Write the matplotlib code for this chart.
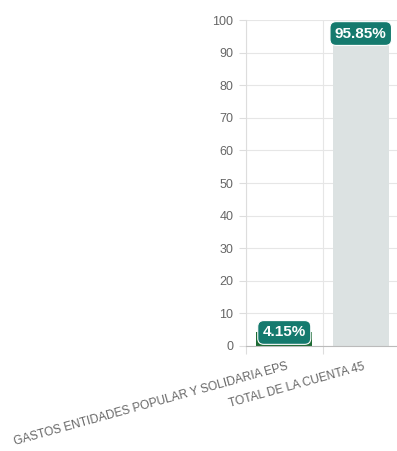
import matplotlib.pyplot as plt

categories = ['GASTOS ENTIDADES POPULAR Y SOLIDARIA EPS', 'TOTAL DE LA CUENTA 45']
values = [4.15, 95.85]
bar_colors = ['#1d6b34', '#dce2e2']
yticks = list(range(0, 101, 10))

plt.rcParams['font.family'] = ['Liberation Sans', 'DejaVu Sans']

fig = plt.figure(figsize=(3.97, 4.51), dpi=100)
ax = fig.add_axes([246 / 397, 1 - 346 / 451, 153 / 397, 326 / 451])

x = list(range(len(categories)))
ax.bar(x, values, width=0.73, color=bar_colors, zorder=2)

ax.set_xlim(-0.5, 1.5)
ax.set_ylim(0, 100)
ax.set_yticks(yticks)
ax.set_yticklabels([str(t) for t in yticks], color='#666666', fontsize=9)

# category boundaries carry the vertical grid and tick marks
ax.set_xticks([-0.5, 0.5])
ax.set_xticklabels(['', ''])
ax.tick_params(axis='x', length=6, color='#dddddd')
ax.tick_params(axis='y', length=5, color='#dddddd', pad=4)
ax.grid(True, color='#e6e6e6', linewidth=0.8, zorder=0)

for s in ['top', 'right']:
    ax.spines[s].set_visible(False)
ax.spines['left'].set_color('#dddddd')
ax.spines['bottom'].set_color('#bbbbbb')

# rotated category labels, anchored at their right end
for xi, name in zip(x, categories):
    ax.text(xi + 0.03, -4.5, name, rotation=15.5, ha='right', va='top',
            rotation_mode='anchor', fontsize=8.6, color='#666666',
            transform=ax.transData, clip_on=False)

# value badges centred on the bar tops
for xi, v in zip(x, values):
    ax.text(xi, v, f'{v:.2f}%', ha='center', va='center', fontsize=11,
            fontweight='bold', color='white', zorder=4,
            bbox=dict(boxstyle='round,pad=0.32,rounding_size=0.4',
                      facecolor='#157a6e', edgecolor='white', linewidth=0.8))

fig.savefig('out.png', dpi=100)
